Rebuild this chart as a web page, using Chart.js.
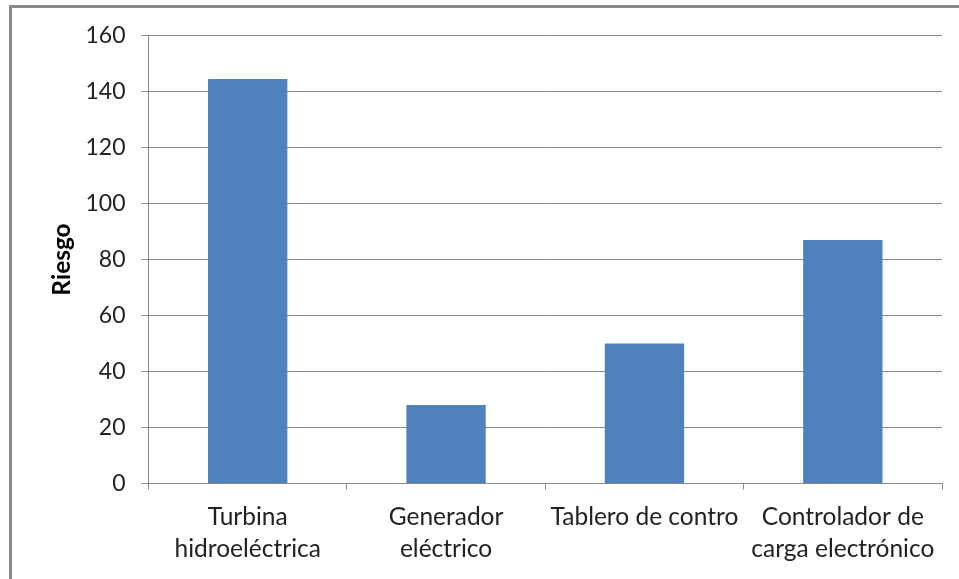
<!DOCTYPE html>
<html>
<head>
<meta charset="utf-8">
<script src="https://cdn.jsdelivr.net/npm/chart.js@4/dist/chart.umd.min.js"></script>
<style>
  html, body { margin: 0; padding: 0; background: #fff; overflow: hidden; }
  #frame { position: absolute; left: 9px; top: 5px; width: 1200px; height: 800px;
           border: 3px solid #8a8a8a; box-sizing: border-box; }
  #wrap { position: absolute; left: 0; top: 0; width: 959px; height: 579px; }
</style>
</head>
<body>
<div id="frame"></div>
<div id="wrap"><canvas id="c"></canvas></div>
<script>
// Risk score per component of the micro hydro plant
const categories = [
  ['Turbina', 'hidroeléctrica'],
  ['Generador', 'eléctrico'],
  'Tablero de contro',
  ['Controlador de', 'carga electrónico']
];
const riskValues = [144.5, 28, 50, 87];
const yTicks = { min: 0, max: 160, step: 20 };
const axisTitle = 'Riesgo';

const FONT = 'Lato, "Liberation Sans", sans-serif';
const GRID = '#888888';
const TEXT = '#222222';

new Chart(document.getElementById('c'), {
  type: 'bar',
  data: {
    labels: categories,
    datasets: [{
      data: riskValues,
      backgroundColor: '#4f81bd',
      borderWidth: 0,
      categoryPercentage: 1,
      barPercentage: 0.4
    }]
  },
  options: {
    responsive: true,
    maintainAspectRatio: false,
    animation: false,
    layout: { padding: { top: 35.5, right: 17, left: 0, bottom: 0 } },
    plugins: { legend: { display: false }, tooltip: { enabled: false } },
    scales: {
      x: {
        grid: { offset: true, drawOnChartArea: false, tickLength: 6, color: GRID },
        border: { color: GRID },
        ticks: {
          padding: 12, color: TEXT, maxRotation: 0, autoSkip: false,
          font: { family: FONT, size: 24.5, lineHeight: 1.3 }
        },
        afterFit(s) { s.height = 579 - 483.5; }
      },
      y: {
        min: yTicks.min, max: yTicks.max,
        grid: { color: GRID, tickLength: 7 },
        border: { color: GRID },
        ticks: {
          stepSize: yTicks.step, padding: 16, color: TEXT,
          font: { family: FONT, size: 23 }
        },
        title: {
          display: true, text: axisTitle, color: '#000',
          font: { family: FONT, size: 24.5, weight: 'bold' },
          padding: { top: 47, bottom: 0 }
        },
        afterFit(s) { s.width = 148.5; }
      }
    }
  }
});
</script>
</body>
</html>
